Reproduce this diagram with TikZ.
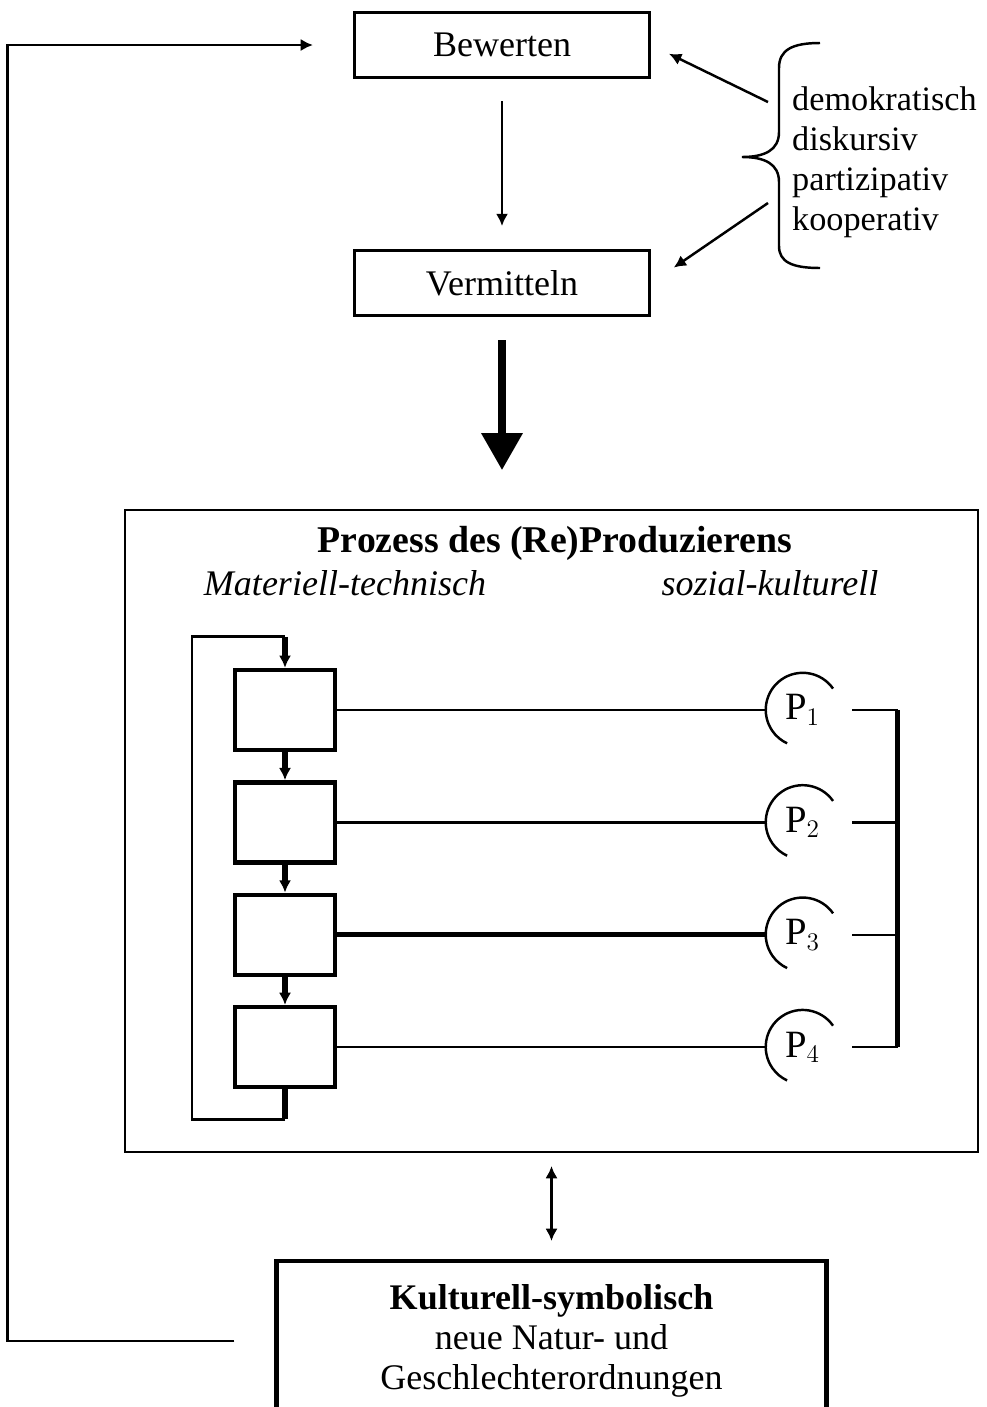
\documentclass[tikz,border=0pt]{standalone}
\usepackage{fontspec}
\setmainfont{Liberation Serif}
\usepackage{amsmath}
\usepackage{tikz}
\usetikzlibrary{positioning}
\usetikzlibrary{arrows.meta}

\newcommand{\testo}{\fontsize{20.5}{22.7}\selectfont}

\begin{document}
\begin{tikzpicture}[x=0.02cm, y=-0.02cm, font=\testo,
    box/.style={draw, line width=1.8pt, minimum width=5.9cm, minimum height=1.3cm},
    mbox/.style={draw, line width=2.5pt, minimum width=2cm, minimum height=1.6cm},
    pnode/.style={circle, minimum size=1.48cm, inner sep=0pt, font=\fontsize{22}{24}\selectfont},
    link/.style={line width=1.4pt},
    tip/.style={-{Latex[length=7pt, width=7pt]}}]
  \useasboundingbox (0,0) rectangle (987,1407);
  \clip (0,0) rectangle (987,1407);

  % Riquadri principali
  \node[box] (bew) at (502,45) {Bewerten};
  \node[box, below=3.4cm of bew] (verm) {Vermitteln};
  \node[draw, line width=1.2pt, minimum width=17.06cm, minimum height=12.84cm] (proc) at (551.5,831) {};
  \node[draw, line width=2.5pt, minimum width=11cm, minimum height=3.2cm, align=center, below=2.12cm of proc] (kult)
    {\textbf{Kulturell-symbolisch}\\neue Natur- und\\Geschlechterordnungen};

  % Titoli
  \node[font=\bfseries\fontsize{21.5}{24}\selectfont] (titolo) at (555,543) {Prozess des (Re)Produzierens};
  \node[font=\testo\itshape] (mat) at (345,583) {Materiell-technisch};
  \node[font=\testo\itshape] (soz) at (770,583) {sozial-kulturell};

  % Parentesi e lista
  \draw[link] (820,43) .. controls (792,43) and (779,50) .. (779,68) -- (779,132)
    .. controls (779,150) and (765,157) .. (742,157)
    .. controls (765,157) and (779,164) .. (779,182) -- (779,246)
    .. controls (779,262) and (792,268) .. (820,268);
  \node[anchor=west, align=left, font=\fontsize{19.5}{22.7}\selectfont] (lista) at (786,162)
    {demokratisch\\diskursiv\\partizipativ\\kooperativ};
  \coordinate (d1) at (768,102);
  \coordinate (d2) at (768,203);
  \draw[link, tip, shorten >=0.4cm] (d1) -- (bew.east);
  \draw[link, tip, shorten >=0.55cm] (d2) -- (verm.east);

  % Frecce verticali
  \draw[link, tip, shorten <=0.44cm, shorten >=0.46cm] (bew) -- (verm);
  \draw[line width=4pt, -{Triangle[length=0.74cm, width=0.8cm]}, shorten <=0.46cm, shorten >=0.78cm]
    (verm.south) -- (verm.south |- proc.north);
  \draw[link, {Latex[length=7pt, width=7pt]}-{Latex[length=7pt, width=7pt]}, shorten <=0.26cm, shorten >=0.36cm]
    (proc) -- (kult);

  % Catena di riquadri
  \node[mbox] (m1) at (285,710) {};
  \node[mbox, below=0.56cm of m1] (m2) {};
  \node[mbox, below=0.56cm of m2] (m3) {};
  \node[mbox, below=0.56cm of m3] (m4) {};
  \draw[line width=3pt, tip] (m1) -- (m2);
  \draw[line width=3pt, tip] (m2) -- (m3);
  \draw[line width=3pt, tip] (m3) -- (m4);
  \coordinate[above=0.62cm of m1] (giro);
  \coordinate[below=0.6cm of m4] (fondo);
  \draw[line width=3pt] (m4) -- (fondo);
  \draw[line width=1.7pt] (fondo) -- ++(-93,0) |- (giro);
  \draw[line width=3pt, tip] (giro) -- (m1);

  % Persone
  \foreach \i/\w in {1/1.4pt, 2/1.4pt, 3/2.8pt, 4/1.4pt}{
    \node[pnode, right=8.56cm of m\i] (p\i) {$\mathrm{P}_{\i}$};
    \draw[line width=\w] (m\i) -- (p\i.west);
    \draw[line width=1.4pt] (p\i.35) arc[start angle=35, end angle=245, radius=0.74cm];
    \coordinate[right=1.16cm of p\i] (b\i);
    \draw[line width=1.4pt, shorten <=0.25cm] (p\i.east) -- (b\i);
  }
  \draw[line width=2.8pt] (b1) -- (b4);

  % Ritorno
  \coordinate[left=0.8cm of kult.west] (ritorno);
  \coordinate[left=0.8cm of bew] (ingresso);
  \draw[link, tip] (ritorno) -- ++(-227,0) |- (ingresso);
\end{tikzpicture}
\end{document}
